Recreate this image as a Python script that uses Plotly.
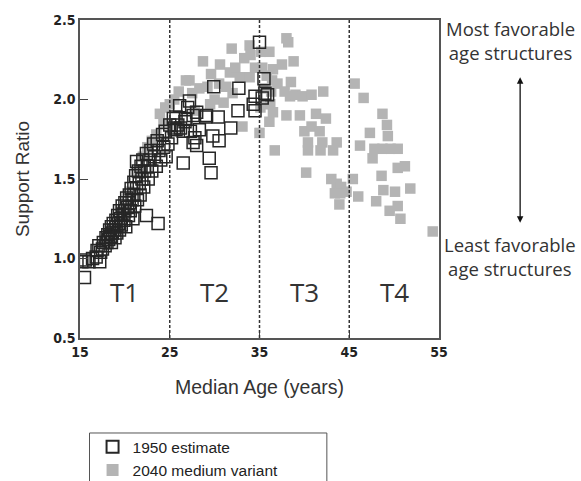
import plotly.graph_objects as go

# 1950 estimate (open black squares)
x1950 = [15.2, 15.5, 15.6, 16.0, 16.4, 16.8, 17.2, 16.9, 17.1, 17.3, 17.5, 17.6, 17.8, 17.9, 18.0,
         18.1, 18.2, 18.3, 18.4, 18.5, 18.5, 18.6, 18.7, 18.8, 18.9, 19.0, 19.0, 19.1, 19.2, 19.3,
         19.4, 19.4, 19.5, 19.6, 19.7, 19.8, 19.9, 20.0, 20.0, 20.1, 20.2, 20.3, 20.4, 20.5, 20.5,
         20.6, 20.7, 20.8, 20.9, 21.0, 21.0, 21.1, 21.2, 21.3, 21.3, 21.4, 21.5, 21.6, 21.7, 21.8,
         21.9, 22.0, 22.1, 22.2, 22.4, 22.4, 22.5, 22.6, 22.8, 22.9, 23.0, 23.2, 23.3, 23.5, 23.7,
         23.6, 23.8, 24.0, 24.2, 24.3, 24.5, 24.6, 24.8, 25.0, 25.2,
         25.4, 25.5, 25.7, 25.7, 25.9, 26.1, 26.2, 26.5, 26.5, 26.7, 26.8, 27.0, 27.2, 27.3, 27.6,
         27.6, 27.8, 28.0, 28.0, 28.3, 29.0, 29.1, 29.4, 29.6, 29.8, 29.9, 30.4, 30.5, 31.8, 32.6,
         32.7, 34.3, 34.5, 34.5, 35.0, 35.5, 35.6, 35.9, 35.3]
y1950 = [0.98, 0.88, 0.99, 0.98, 1.00, 1.01, 0.98, 1.05, 1.08, 1.04, 1.06, 1.10, 1.08, 1.13, 1.10,
         1.15, 1.12, 1.18, 1.14, 1.20, 1.10, 1.16, 1.22, 1.18, 1.13, 1.24, 1.20, 1.16, 1.27, 1.22,
         1.18, 1.30, 1.25, 1.21, 1.33, 1.28, 1.24, 1.35, 1.30, 1.20, 1.38, 1.32, 1.27, 1.40, 1.35,
         1.30, 1.44, 1.37, 1.25, 1.48, 1.40, 1.33, 1.52, 1.44, 1.61, 1.37, 1.55, 1.47, 1.40, 1.58,
         1.50, 1.62, 1.45, 1.55, 1.27, 1.66, 1.58, 1.50, 1.62, 1.68, 1.55, 1.72, 1.64, 1.58, 1.22,
         1.74, 1.68, 1.62, 1.78, 1.70, 1.80, 1.64, 1.72, 1.84, 1.76,
         1.88, 1.82, 1.89, 1.81, 1.84, 1.96, 1.82, 1.60, 1.80, 1.86, 1.88, 1.95, 1.99, 1.80, 1.90,
         1.73, 1.76, 1.71, 1.92, 1.81, 1.89, 1.90, 1.63, 1.54, 1.77, 2.08, 1.89, 1.74, 1.82, 1.93,
         2.07, 1.97, 2.02, 1.93, 2.36, 2.13, 2.04, 2.03, 2.01]

# 2040 medium variant (grey filled squares)
x2040 = [19.5, 20.5, 21.5, 22.0, 22.5, 23.0, 23.5, 23.9, 24.3, 24.5, 25.0, 25.5, 26.0, 26.8, 27.2,
         27.5, 28.3, 28.7, 29.2, 30.0, 30.6, 31.3, 31.7, 31.9, 32.0, 32.8, 33.1, 33.3, 33.9, 33.9,
         34.5, 35.0, 35.2, 36.1, 36.1, 36.5, 36.7, 36.3, 37.0, 38.0, 38.2, 38.5, 38.8, 38.4, 39.0,
         39.8, 38.0, 39.5, 40.8, 42.1, 41.3, 42.4, 40.0, 40.8, 41.7, 40.4, 42.0, 43.6, 40.4, 41.8,
         43.2, 40.2, 43.0, 43.6, 44.1, 44.7, 43.4, 44.0, 43.9, 45.4, 46.0, 45.6, 46.6, 48.7, 49.2,
         47.3, 49.3, 46.2, 47.8, 48.7, 49.6, 50.4, 47.6, 50.4, 51.2, 48.6, 48.8, 50.1, 51.8, 48.0,
         49.5, 50.4, 50.7, 54.3,
         35.3, 35.8, 36.4, 35.4, 36.2, 36.5, 35.1, 27.8, 29.5, 31.0, 30.5, 29.6, 32.3, 34.0, 37.5,
         37.8]
y2040 = [1.30, 1.42, 1.55, 1.64, 1.70, 1.74, 1.78, 1.91, 1.85, 1.95, 1.97, 2.00, 2.05, 2.12, 2.12,
         2.04, 2.07, 2.24, 2.08, 2.00, 2.22, 2.08, 2.17, 2.32, 2.04, 2.14, 1.83, 2.26, 2.14, 2.34,
         2.20, 1.79, 2.30, 2.30, 1.86, 2.19, 1.68, 2.05, 2.10, 2.385, 2.36, 2.11, 2.24, 2.02, 2.03,
         2.02, 1.90, 1.90, 2.03, 2.05, 1.91, 1.88, 1.80, 1.83, 1.80, 1.73, 1.73, 1.73, 1.68, 1.68,
         1.68, 1.54, 1.50, 1.47, 1.45, 1.42, 1.41, 1.41, 1.34, 1.50, 1.39, 2.10, 2.01, 1.91, 1.84,
         1.79, 1.77, 1.71, 1.69, 1.69, 1.69, 1.69, 1.63, 1.57, 1.58, 1.52, 1.43, 1.42, 1.44, 1.36,
         1.30, 1.33, 1.25, 1.17,
         2.20, 2.15, 2.12, 2.07, 1.97, 1.92, 1.95, 1.93, 1.97, 1.98, 2.10, 2.16, 2.20, 2.28, 2.22,
         2.05]

x_ticks = [15, 25, 35, 45, 55]
y_ticks = [0.5, 1.0, 1.5, 2.0, 2.5]
y_tick_labels = ["0.5", "1.0", "1.5", "2.0", "2.5"]
boundaries = [25, 35, 45]
stage_labels = ["T1", "T2", "T3", "T4"]
stage_centers = [20, 30, 40, 50]

TICKFONT = "Liberation Sans Narrow, DejaVu Sans Condensed, Arial Narrow, sans-serif"
TEXTFONT = "Liberation Sans, Arial, sans-serif"
NOTEFONT = "Open Sans, Noto Sans, sans-serif"

fig = go.Figure()
fig.add_trace(go.Scatter(
    x=x2040, y=y2040, mode="markers", name="2040 medium variant", legendrank=2,
    marker=dict(symbol="square", size=10.5, color="#b4b4b4", line=dict(width=0)),
))
fig.add_trace(go.Scatter(
    x=x1950, y=y1950, mode="markers", name="1950 estimate", legendrank=1,
    marker=dict(symbol="square-open", size=12, color="#262626", line=dict(width=1.5, color="#262626")),
))

for b in boundaries:
    fig.add_shape(type="line", xref="x", yref="y", x0=b, x1=b, y0=0.5, y1=2.5,
                  line=dict(color="#333", width=1.5, dash="3px,2px"))

for lab, cx in zip(stage_labels, stage_centers):
    fig.add_annotation(x=cx, y=0.79, xref="x", yref="y", text=lab, showarrow=False,
                       font=dict(family=NOTEFONT, size=26, color="#333"))

# Right-hand notes
fig.add_annotation(x=1.198, y=1.018, xref="paper", yref="paper", xanchor="center",
                   text="Most favorable<br>age structures", showarrow=False, align="center",
                   yanchor="top", font=dict(family=NOTEFONT, size=18.5, color="#333"))
fig.add_annotation(x=1.198, y=0.341, xref="paper", yref="paper", xanchor="center",
                   text="Least favorable<br>age structures", showarrow=False, align="center",
                   yanchor="top", font=dict(family=NOTEFONT, size=18.5, color="#333"))
fig.add_annotation(x=1.226, y=0.820, xref="paper", yref="paper", ax=0, ay=147,
                   axref="pixel", ayref="pixel", text="", showarrow=True,
                   arrowhead=2, arrowside="end+start", arrowsize=1, arrowwidth=1.3,
                   arrowcolor="#111", standoff=0, startstandoff=0)

# Legend box
fig.add_shape(type="rect", xref="paper", yref="paper", x0=0.0265, x1=0.6876, y0=-0.2987, y1=-0.5,
              line=dict(color="#555", width=1), fillcolor="rgba(0,0,0,0)")

fig.update_layout(
    width=581, height=481,
    margin=dict(l=80, r=142, t=20, b=143, autoexpand=False),
    paper_bgcolor="white", plot_bgcolor="white",
    showlegend=True,
    legend=dict(x=0.035, y=-0.290, xanchor="left", yanchor="top", bgcolor="rgba(0,0,0,0)",
                font=dict(family=TEXTFONT, size=15.5, color="#222"), tracegroupgap=0,
                itemsizing="constant"),
    xaxis=dict(range=[15, 55], tickvals=x_ticks, ticks="inside", ticklen=8, tickcolor="#444",
               showgrid=False, zeroline=False, showline=True, linecolor="#555", linewidth=1.5,
               mirror=True, tickfont=dict(family=TICKFONT, size=14, color="#222", weight="bold"),
               title=dict(text="Median Age (years)", font=dict(family=TEXTFONT, size=19.5, color="#333"),
                          standoff=22)),
    yaxis=dict(range=[0.5, 2.5], tickvals=y_ticks, ticktext=y_tick_labels, ticks="inside", ticklen=8,
               tickcolor="#444", showgrid=False, zeroline=False, showline=True, linecolor="#555",
               linewidth=1.5, mirror=True,
               tickfont=dict(family=TICKFONT, size=14, color="#222", weight="bold"),
               title=dict(text="Support Ratio", font=dict(family=TEXTFONT, size=19, color="#333"),
                          standoff=18)),
)

fig.write_html("out.html")
